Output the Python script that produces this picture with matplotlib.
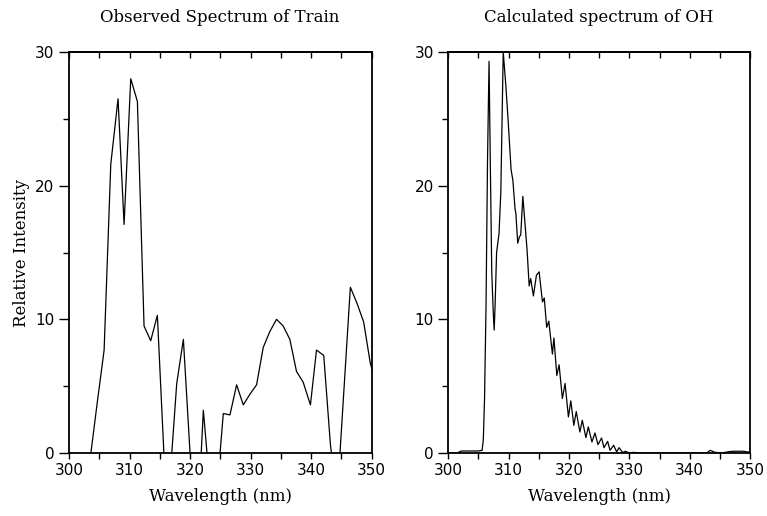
import numpy as np
import matplotlib.pyplot as plt
from matplotlib.ticker import MultipleLocator

# observed spectrum (values below 0 are clipped by the axes)
obs_wl = [302.5, 304.7, 305.8, 306.9, 308.1, 309.1, 310.2, 311.3, 312.4, 313.5,
          314.6, 316.2, 317.8, 318.9, 321.0, 322.2, 323.9, 325.5, 326.6, 327.7,
          328.8, 329.9, 331.0, 332.1, 333.2, 334.3, 335.4, 336.5, 337.6, 338.7,
          339.9, 340.9, 342.1, 343.2, 344.3, 346.5, 347.6, 348.7, 349.8, 350.9]
obs_int = [-4.0, 3.9, 7.7, 21.6, 26.5, 17.1, 28.0, 26.3, 9.5, 8.4,
           10.3, -5.0, 5.2, 8.5, -7.7, 3.2, -5.8, 2.95, 2.85, 5.1,
           3.6, 4.4, 5.1, 7.9, 9.1, 10.0, 9.5, 8.5, 6.1, 5.3,
           3.6, 7.7, 7.3, 0.65, -3.5, 12.4, 11.2, 9.8, 6.7, 5.0]

# calculated OH spectrum
oh_wl = [300.0, 301.5, 302.0, 302.3, 303.5, 305.0, 305.6, 305.8, 306.0, 306.25,
         306.5, 306.75, 306.95, 307.2, 307.45, 307.6, 307.75, 308.0, 308.4, 308.7,
         309.1, 309.55, 309.95, 310.4, 310.7, 311.05, 311.2, 311.5, 311.8, 312.0,
         312.35, 312.7, 313.05, 313.4, 313.65, 314.1, 314.6, 315.05, 315.6, 315.9,
         316.3, 316.65, 317.25, 317.5, 317.98, 318.36, 318.9, 319.35, 319.9, 320.3,
         320.8, 321.2, 321.8, 322.2, 322.8, 323.2, 323.8, 324.3, 324.8, 325.4,
         325.8, 326.4, 326.8, 327.4, 327.9, 328.3, 328.9, 329.3, 330.0, 330.7,
         331.5, 342.8, 343.4, 344.2, 345.3, 346.5, 347.3, 348.9, 350.0]
oh_int = [0.0, 0.0, 0.12, 0.15, 0.15, 0.15, 0.2, 1.0, 4.0, 11.0,
          22.0, 29.3, 22.0, 13.5, 10.5, 9.2, 11.0, 15.0, 16.4, 19.5,
          30.0, 27.4, 24.6, 21.2, 20.4, 18.3, 17.9, 15.7, 16.2, 16.3,
          19.2, 17.2, 15.2, 12.5, 13.05, 11.75, 13.3, 13.55, 11.3, 11.6,
          9.4, 9.86, 7.4, 8.6, 5.8, 6.6, 4.07, 5.2, 2.7, 3.9,
          2.07, 3.1, 1.57, 2.45, 1.15, 1.95, 0.82, 1.5, 0.63, 1.12,
          0.4, 0.87, 0.2, 0.58, 0.08, 0.4, 0.03, 0.13, 0.0, 0.05,
          0.0, 0.0, 0.2, 0.05, 0.0, 0.1, 0.13, 0.13, 0.05]

xticks = [300, 310, 320, 330, 340, 350]
yticks = [0, 10, 20, 30]

serif = 'DejaVu Serif'
sans = 'DejaVu Sans'

fig = plt.figure(figsize=(7.67, 5.16), dpi=100)
ax1 = fig.add_axes([0.090, 0.1221, 0.3944, 0.7771])
ax2 = fig.add_axes([0.5845, 0.1221, 0.3934, 0.7771])


def style(ax):
    ax.set_xlim(300, 350)
    ax.set_ylim(0, 30)
    ax.set_xticks(xticks)
    ax.set_yticks(yticks)
    ax.xaxis.set_minor_locator(MultipleLocator(5))
    ax.yaxis.set_minor_locator(MultipleLocator(5))
    ax.tick_params(axis='x', which='both', direction='out', length=4, width=1,
                   top=False, labelsize=11)
    ax.tick_params(axis='y', which='major', direction='out', length=7, width=1,
                   right=False, labelsize=11)
    ax.tick_params(axis='y', which='minor', direction='out', length=4, width=1,
                   right=False)
    for lab in ax.get_xticklabels() + ax.get_yticklabels():
        lab.set_family(sans)
    for s in ax.spines.values():
        s.set_linewidth(1.3)
    top = ax.secondary_xaxis('top')
    top.set_xticks(xticks)
    top.xaxis.set_minor_locator(MultipleLocator(5))
    top.tick_params(axis='x', which='both', direction='in', length=4, width=1,
                    labeltop=False)
    top.spines['top'].set_linewidth(1.3)
    ax.set_xlabel('Wavelength (nm)', family=serif, fontsize=12, labelpad=7)


ax1.plot(obs_wl, obs_int, color='black', lw=0.9)
style(ax1)
ax1.set_ylabel('Relative Intensity', family=serif, fontsize=12, labelpad=3.5)

ax2.plot(oh_wl, oh_int, color='black', lw=0.9)
style(ax2)

fig.text(0.287, 0.967, 'Observed Spectrum of Train', family=serif,
         fontsize=12, ha='center', va='center')
fig.text(0.781, 0.967, 'Calculated spectrum of OH', family=serif,
         fontsize=12, ha='center', va='center')

fig.savefig('out.png', dpi=100)
